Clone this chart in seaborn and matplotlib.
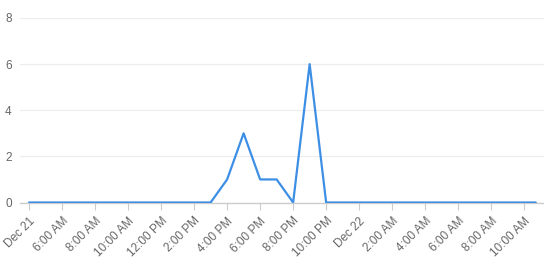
import matplotlib
matplotlib.use("Agg")
import matplotlib.pyplot as plt
import matplotlib.dates as mdates
import seaborn as sns
import pandas as pd

# Data (hourly counts)
times = list(pd.date_range("2023-12-21 04:00", "2023-12-22 10:00", freq="h")) + [pd.Timestamp("2023-12-22 10:42")]
values = [0, 0, 0, 0, 0, 0, 0, 0, 0, 0, 0,   # 4 AM - 2 PM
          0, 1, 3, 1, 1, 0, 6, 0,            # 3 PM - 10 PM
          0, 0, 0, 0, 0, 0, 0, 0, 0, 0, 0, 0,  # 11 PM - 10 AM
          0]
tick_times = list(pd.date_range("2023-12-21 04:00", "2023-12-22 10:00", freq="2h"))
tick_labels = ["Dec 21", "6:00 AM", "8:00 AM", "10:00 AM", "12:00 PM", "2:00 PM",
               "4:00 PM", "6:00 PM", "8:00 PM", "10:00 PM", "Dec 22", "2:00 AM",
               "4:00 AM", "6:00 AM", "8:00 AM", "10:00 AM"]
y_ticks = [0, 2, 4, 6, 8]

df = pd.DataFrame({"time": times, "value": values})

sns.set_theme(style="white")
plt.rcParams["font.family"] = ["Liberation Sans", "DejaVu Sans"]

fig = plt.figure(figsize=(5.44, 2.67), dpi=100)
ax = fig.add_axes([20 / 544, (267 - 202.5) / 267, 1 - 20 / 544, (202.5 - 18) / 267])

sns.lineplot(data=df, x="time", y="value", ax=ax, color="#3d8fe6", linewidth=1.6)

x0 = pd.Timestamp("2023-12-21 04:00") - pd.Timedelta(minutes=33)
x1 = pd.Timestamp("2023-12-22 11:12")
ax.set_xlim(mdates.date2num(x0), mdates.date2num(x1))
ax.set_ylim(0, 8)

ax.set_xticks([mdates.date2num(t) for t in tick_times])
ax.set_xticklabels(tick_labels, rotation=45, ha="right", rotation_mode="anchor",
                   fontsize=8.5, color="#666666")
ax.set_yticks(y_ticks)
ax.set_yticklabels([str(v) for v in y_ticks], fontsize=8.5, color="#666666")

ax.set_xlabel("")
ax.set_ylabel("")
for s in ["top", "right", "left"]:
    ax.spines[s].set_visible(False)
ax.spines["bottom"].set_color("#cccccc")
ax.spines["bottom"].set_linewidth(1)
ax.spines["bottom"].set_zorder(1)

ax.grid(axis="y", color="#ececec", linewidth=0.8)
ax.set_axisbelow(True)
ax.tick_params(axis="x", length=5, width=0.8, color="#cccccc", pad=4, bottom=True)
ax.tick_params(axis="y", length=0, pad=6)

fig.savefig("out.png", dpi=100)
